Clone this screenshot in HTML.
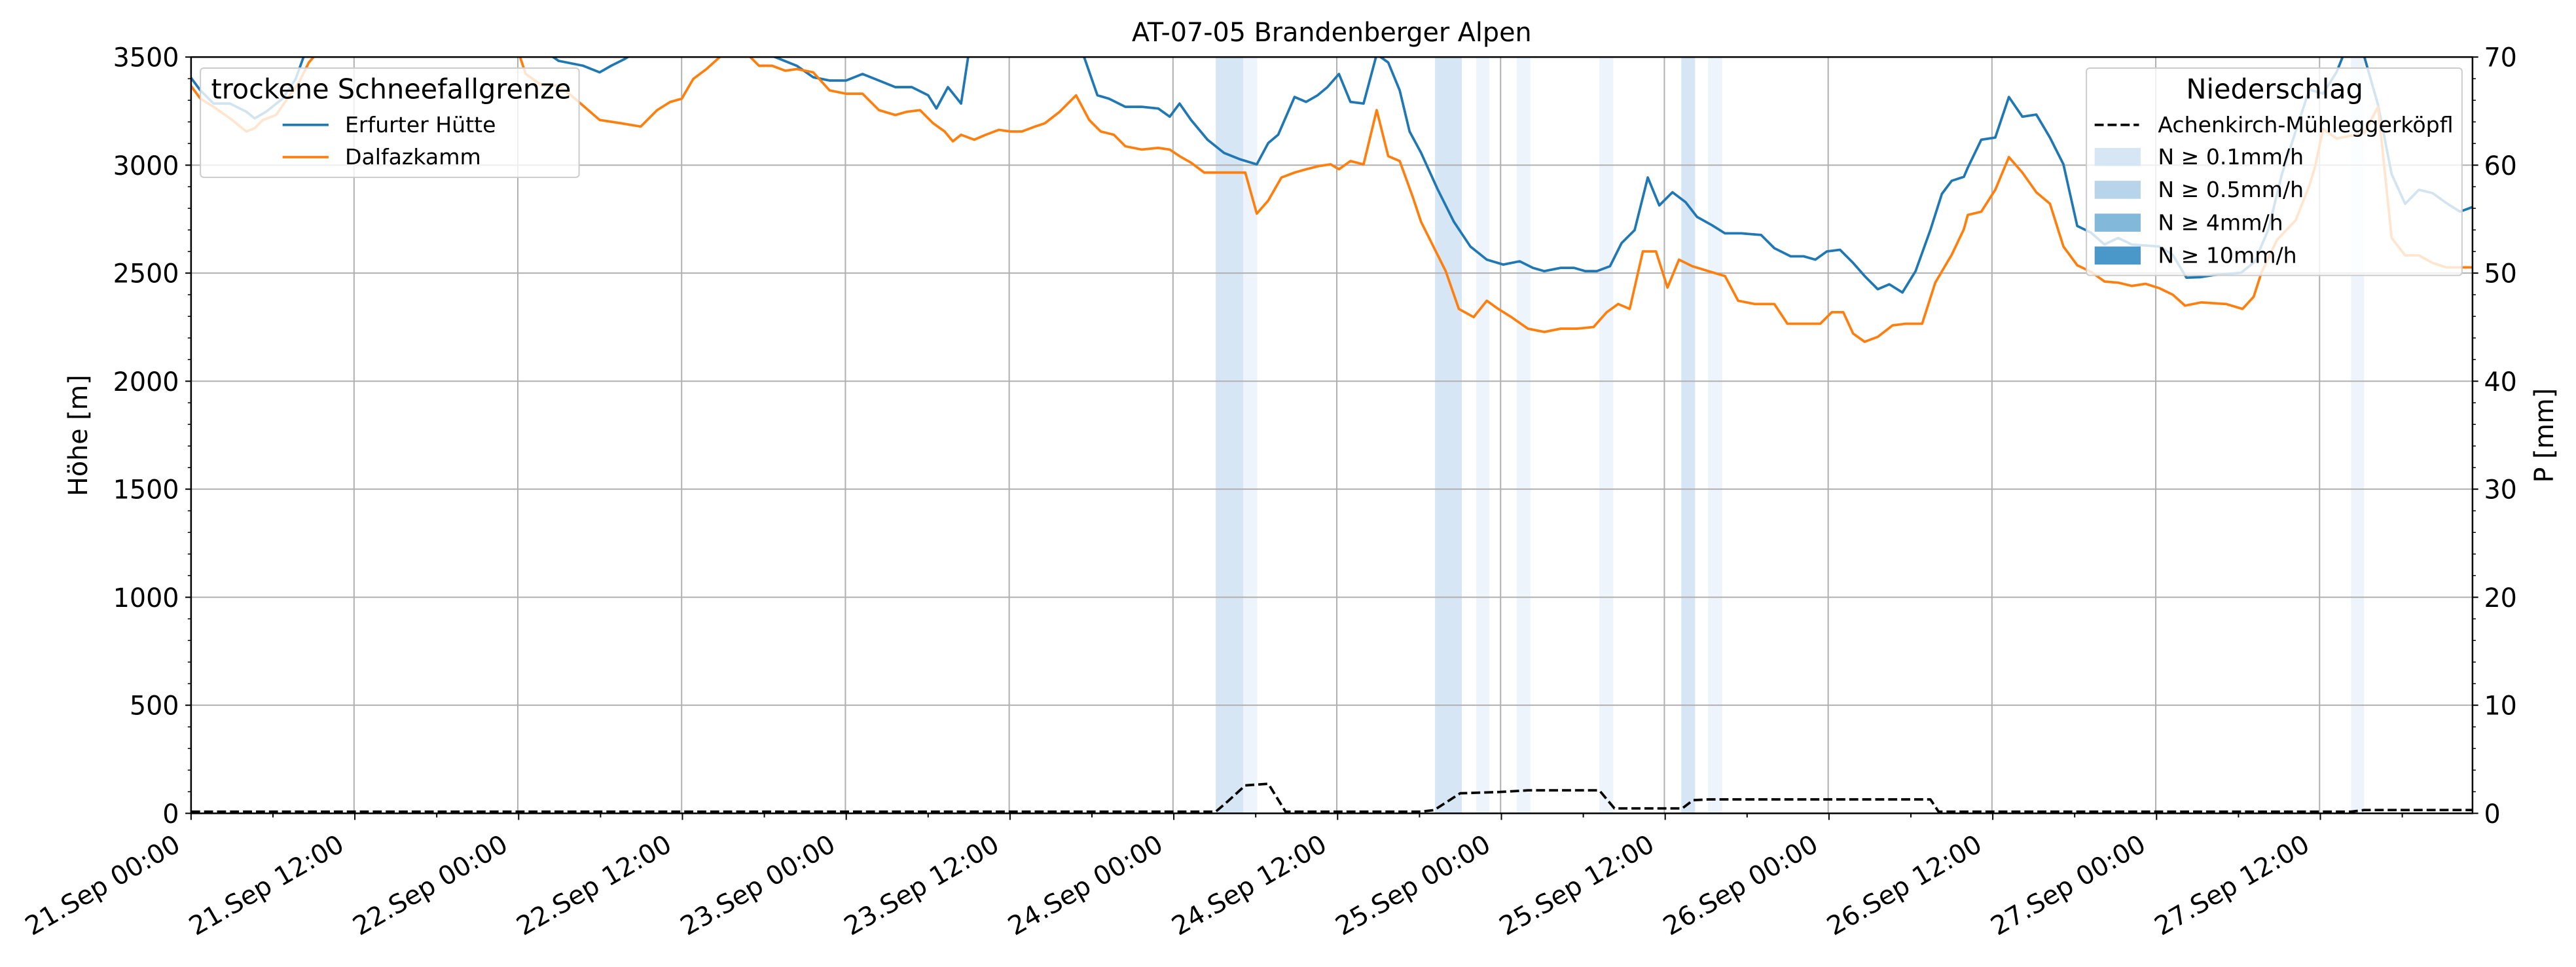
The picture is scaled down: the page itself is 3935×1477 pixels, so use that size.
<!DOCTYPE html>
<html><head><meta charset="utf-8"><style>html,body{margin:0;padding:0;background:#fff}svg{display:block}</style></head>
<body>
<svg xmlns="http://www.w3.org/2000/svg" width="3935" height="1477" viewBox="0 0 1568 588.5" font-family="'DejaVu Sans','Liberation Sans',sans-serif">
<defs><clipPath id="c"><rect x="116.3" y="34.7" width="1388.7" height="460.3"/></clipPath></defs>
<rect width="1568" height="588.5" fill="#fff"/>
<g>
<rect x="740" y="34.7" width="16.7" height="460.3" fill="#d6e6f4"/>
<rect x="756.7" y="34.7" width="8.6" height="460.3" fill="#eef4fb"/>
<rect x="873.5" y="34.7" width="16.3" height="460.3" fill="#d6e6f4"/>
<rect x="898.6" y="34.7" width="7.9" height="460.3" fill="#eef4fb"/>
<rect x="923.3" y="34.7" width="8.3" height="460.3" fill="#eef4fb"/>
<rect x="973.5" y="34.7" width="8.5" height="460.3" fill="#eef4fb"/>
<rect x="1023.4" y="34.7" width="8.4" height="460.3" fill="#d6e6f4"/>
<rect x="1039.7" y="34.7" width="8.6" height="460.3" fill="#eef4fb"/>
<rect x="1431" y="34.7" width="8" height="460.3" fill="#eef4fb"/>
</g>
<g stroke="#b0b0b0" stroke-width="0.8">
<line x1="215.5" y1="34.7" x2="215.5" y2="495"/><line x1="315.2" y1="34.7" x2="315.2" y2="495"/><line x1="414.9" y1="34.7" x2="414.9" y2="495"/><line x1="514.6" y1="34.7" x2="514.6" y2="495"/><line x1="614.3" y1="34.7" x2="614.3" y2="495"/><line x1="714" y1="34.7" x2="714" y2="495"/><line x1="813.7" y1="34.7" x2="813.7" y2="495"/><line x1="913.4" y1="34.7" x2="913.4" y2="495"/><line x1="1013.1" y1="34.7" x2="1013.1" y2="495"/><line x1="1112.8" y1="34.7" x2="1112.8" y2="495"/><line x1="1212.5" y1="34.7" x2="1212.5" y2="495"/><line x1="1312.2" y1="34.7" x2="1312.2" y2="495"/><line x1="1411.9" y1="34.7" x2="1411.9" y2="495"/>
<line x1="116.3" y1="429.2" x2="1505" y2="429.2"/><line x1="116.3" y1="363.5" x2="1505" y2="363.5"/><line x1="116.3" y1="297.7" x2="1505" y2="297.7"/><line x1="116.3" y1="232" x2="1505" y2="232"/><line x1="116.3" y1="166.2" x2="1505" y2="166.2"/><line x1="116.3" y1="100.5" x2="1505" y2="100.5"/>
</g>
<g clip-path="url(#c)" fill="none" stroke-width="1.5" stroke-linejoin="round">
<polyline stroke="#1f77b4" points="116,47 122,55 130,63 140,63 150,68 155,72 162,68 172,60 180,48 185,34 330,30 340,37 355,40 365,44 372,40 380,36 390,30 465,30 470,34 485,40 495,47 505,49 515,49 525,45 535,49 545,53 555,53 565,58 570,66 577,53 585,63 590,30 655,30 660,35 668,58 675,60 685,65 695,65 705,66 712,71 718,63 725,73 735,85 745,93 755,97 765,100 772,87 778,82 788,59 795,62 802,58 808,53 815,45 822,62 830,63 838,33 845,38 852,55 858,80 865,93 875,115 885,135 895,150 905,158 915,161 925,159 933,163 940,165 950,163 958,163 965,165 972,165 980,162 987,148 995,140 1003,108 1010,125 1018,117 1026,123 1033,132 1042,137 1050,142 1060,142 1072,143 1080,151 1090,156 1098,156 1105,158 1112,153 1120,152 1128,160 1135,168 1143,176 1150,173 1158,178 1166,165 1175,140 1182,118 1188,110 1195.4,107.6 1197.8,102 1206,85 1214.5,83.7 1222.8,59 1231,71 1239.5,69.7 1247.8,83.7 1256,100 1264.4,137.5 1272.7,141.5 1281,148.8 1289.3,144.8 1297.6,148.8 1305.9,149.4 1314.2,150 1322.5,155 1330.9,169 1339.2,168.7 1347.5,167.4 1355.8,166.7 1364.1,166 1372.4,159.4 1380.8,139.5 1389,106 1397.4,79.7 1405.7,54.5 1414,57 1422.3,43.8 1427,32 1439,34 1447.5,63.8 1455.8,106 1464,124 1472.4,115.5 1480.7,117.5 1489,123.5 1497.4,128.8 1505,126"/>
<polyline stroke="#ff7f0e" points="116,52 122,60 130,65 140,72 150,80 155,78 160,73 168,70 175,60 182,50 188,38 195,30 315,30 320,45 330,52 340,52 350,60 365,73 378,75 390,77 400,67 408,62 415,60 422,48 430,42 440,33 455,33 462,40 470,40 478,43 485,42 495,44 505,55 515,57 525,57 535,67 545,70 552,68 560,67 568,75 575,80 580,86 585,82 593,85 600,82 608,79 615,80 622,80 630,77 636,75 645,68 655,58 663,73 670,80 678,82 685,89 695,91 705,90 712,91 718,95 725,99 733,105 740,105 750,105 758,105 765,130 772,122 780,108 788,105 795,103 803,101 810,100 815,103 822,98 830,100 838,67 845,95 852,98 860,120 865,135 870,145 880,165 888,188 897,193 905,183 912,188 920,193 930,200 940,202 950,200 960,200 970,199 978,190 985,185 992,188 1000,153 1008,153 1015,175 1022,158 1030,162 1040,165 1050,168 1058,183 1068,185 1080,185 1088,197 1098,197 1108,197 1115,190 1122,190 1128,203 1135,208 1143,205 1152,198 1160,197 1170,197 1178,172 1188,155 1195.4,139.5 1197.8,130.8 1206,128.8 1214.5,115.5 1222.8,95.6 1231,105 1239.5,117 1247.8,124 1256,150 1264.4,161.4 1272.7,165.4 1281,171.3 1289.3,172 1297.6,174 1305.9,172.7 1314.2,175.3 1322.5,179.3 1330,186 1340,184 1355,185 1365,188 1371.8,180.6 1376.5,166 1386,146 1397.4,134 1405.7,112.9 1409.3,101 1414,78.4 1422.3,84.3 1439,81 1447.5,65 1455.8,144.8 1464,155.4 1472.4,155.4 1480.7,160 1489,162.7 1505,162.7"/>
<polyline stroke="#000" stroke-dasharray="5.5,2.4" points="116.3,494 740,494 747,488 758,478 772,477 782.5,494 865,494 873,493 888.8,482.8 913,482 930,481 973.5,481 982.7,492 1024,492 1030.5,487 1040,486.5 1175,486.5 1180,494 1431,494 1439,493 1505,493"/>
</g>
<rect x="116.3" y="34.7" width="1388.7" height="460.3" fill="none" stroke="#000" stroke-width="1"/>
<g stroke="#000" stroke-width="0.8">
<line x1="112.8" y1="495" x2="116.3" y2="495"/><line x1="112.8" y1="429.2" x2="116.3" y2="429.2"/><line x1="112.8" y1="363.5" x2="116.3" y2="363.5"/><line x1="112.8" y1="297.7" x2="116.3" y2="297.7"/><line x1="112.8" y1="232" x2="116.3" y2="232"/><line x1="112.8" y1="166.2" x2="116.3" y2="166.2"/><line x1="112.8" y1="100.5" x2="116.3" y2="100.5"/><line x1="112.8" y1="34.7" x2="116.3" y2="34.7"/>
<line x1="1505" y1="495" x2="1508.5" y2="495"/><line x1="1505" y1="429.2" x2="1508.5" y2="429.2"/><line x1="1505" y1="363.5" x2="1508.5" y2="363.5"/><line x1="1505" y1="297.7" x2="1508.5" y2="297.7"/><line x1="1505" y1="232" x2="1508.5" y2="232"/><line x1="1505" y1="166.2" x2="1508.5" y2="166.2"/><line x1="1505" y1="100.5" x2="1508.5" y2="100.5"/><line x1="1505" y1="34.7" x2="1508.5" y2="34.7"/>
</g>
<g id="minor" stroke="#000" stroke-width="0.6"></g>
<g stroke="#000" stroke-width="0.8" id="xt"></g>
<g font-size="15.8" fill="#000" text-anchor="end">
<text x="109" y="500.8">0</text><text x="109" y="435">500</text><text x="109" y="369.3">1000</text><text x="109" y="303.5">1500</text><text x="109" y="237.8">2000</text><text x="109" y="172">2500</text><text x="109" y="106.3">3000</text><text x="109" y="40.5">3500</text>
</g>
<g font-size="15.8" fill="#000" text-anchor="start">
<text x="1512" y="500.8">0</text><text x="1512" y="435">10</text><text x="1512" y="369.3">20</text><text x="1512" y="303.5">30</text><text x="1512" y="237.8">40</text><text x="1512" y="172">50</text><text x="1512" y="106.3">60</text><text x="1512" y="40.5">70</text>
</g>
<g font-size="15.8" fill="#000" text-anchor="end" id="xl"></g>
<text x="810.6" y="25" font-size="15.8" text-anchor="middle">AT-07-05 Brandenberger Alpen</text>
<text transform="translate(53,265) rotate(-90)" font-size="15.8" text-anchor="middle">Höhe [m]</text>
<text transform="translate(1554,265) rotate(-90)" font-size="15.8" text-anchor="middle">P [mm]</text>
<rect x="122" y="41.4" width="230.5" height="66.5" rx="2" fill="#fff" fill-opacity="0.8" stroke="#ccc" stroke-width="0.8"/>
<text x="128.5" y="60" font-size="16.5">trockene Schneefallgrenze</text>
<line x1="172" y1="76" x2="200" y2="76" stroke="#1f77b4" stroke-width="1.5"/>
<text x="210" y="80.4" font-size="13.2">Erfurter Hütte</text>
<line x1="172" y1="95.6" x2="200" y2="95.6" stroke="#ff7f0e" stroke-width="1.5"/>
<text x="210" y="100" font-size="13.2">Dalfazkamm</text>
<rect x="1270" y="41.4" width="228.6" height="126.2" rx="2" fill="#fff" fill-opacity="0.8" stroke="#ccc" stroke-width="0.8"/>
<text x="1384.6" y="60" font-size="16.5" text-anchor="middle">Niederschlag</text>
<line x1="1275" y1="76" x2="1302" y2="76" stroke="#000" stroke-width="1.5" stroke-dasharray="5.5,2.4"/>
<text x="1313.5" y="80.4" font-size="13.2">Achenkirch-Mühleggerköpfl</text>
<rect x="1275" y="90" width="28" height="11" fill="#d6e6f4"/><text x="1313.5" y="100" font-size="13.2">N ≥ 0.1mm/h</text>
<rect x="1275" y="110" width="28" height="11" fill="#b8d4ea"/><text x="1313.5" y="120" font-size="13.2">N ≥ 0.5mm/h</text>
<rect x="1275" y="130" width="28" height="11" fill="#82b8da"/><text x="1313.5" y="140" font-size="13.2">N ≥ 4mm/h</text>
<rect x="1275" y="150" width="28" height="11" fill="#4a97c9"/><text x="1313.5" y="160" font-size="13.2">N ≥ 10mm/h</text>
<script>
var ns="http://www.w3.org/2000/svg";
var mn=document.getElementById('minor');
for(var i=0;i<=35;i++){if(i%5==0)continue;var y=495-i*13.151;
[[114.3,116.3],[1505,1507]].forEach(function(p){var l=document.createElementNS(ns,'line');l.setAttribute('x1',p[0]);l.setAttribute('x2',p[1]);l.setAttribute('y1',y);l.setAttribute('y2',y);mn.appendChild(l);});}
var xt=document.getElementById('xt'),xl=document.getElementById('xl');
var labs=['21.Sep 00:00','21.Sep 12:00','22.Sep 00:00','22.Sep 12:00','23.Sep 00:00','23.Sep 12:00','24.Sep 00:00','24.Sep 12:00','25.Sep 00:00','25.Sep 12:00','26.Sep 00:00','26.Sep 12:00','27.Sep 00:00','27.Sep 12:00'];
for(var k=0;k<28;k++){var x=116.3+k*49.85;if(x>1505)break;var l=document.createElementNS(ns,'line');l.setAttribute('x1',x);l.setAttribute('x2',x);l.setAttribute('y1',495);l.setAttribute('y2',k%2?497.5:499);xt.appendChild(l);
if(k%2==0){var t=document.createElementNS(ns,'text');t.setAttribute('transform','translate('+(x-5.5)+',517) rotate(-30)');t.textContent=labs[k/2];xl.appendChild(t);}}
</script>
</svg>
</body></html>
